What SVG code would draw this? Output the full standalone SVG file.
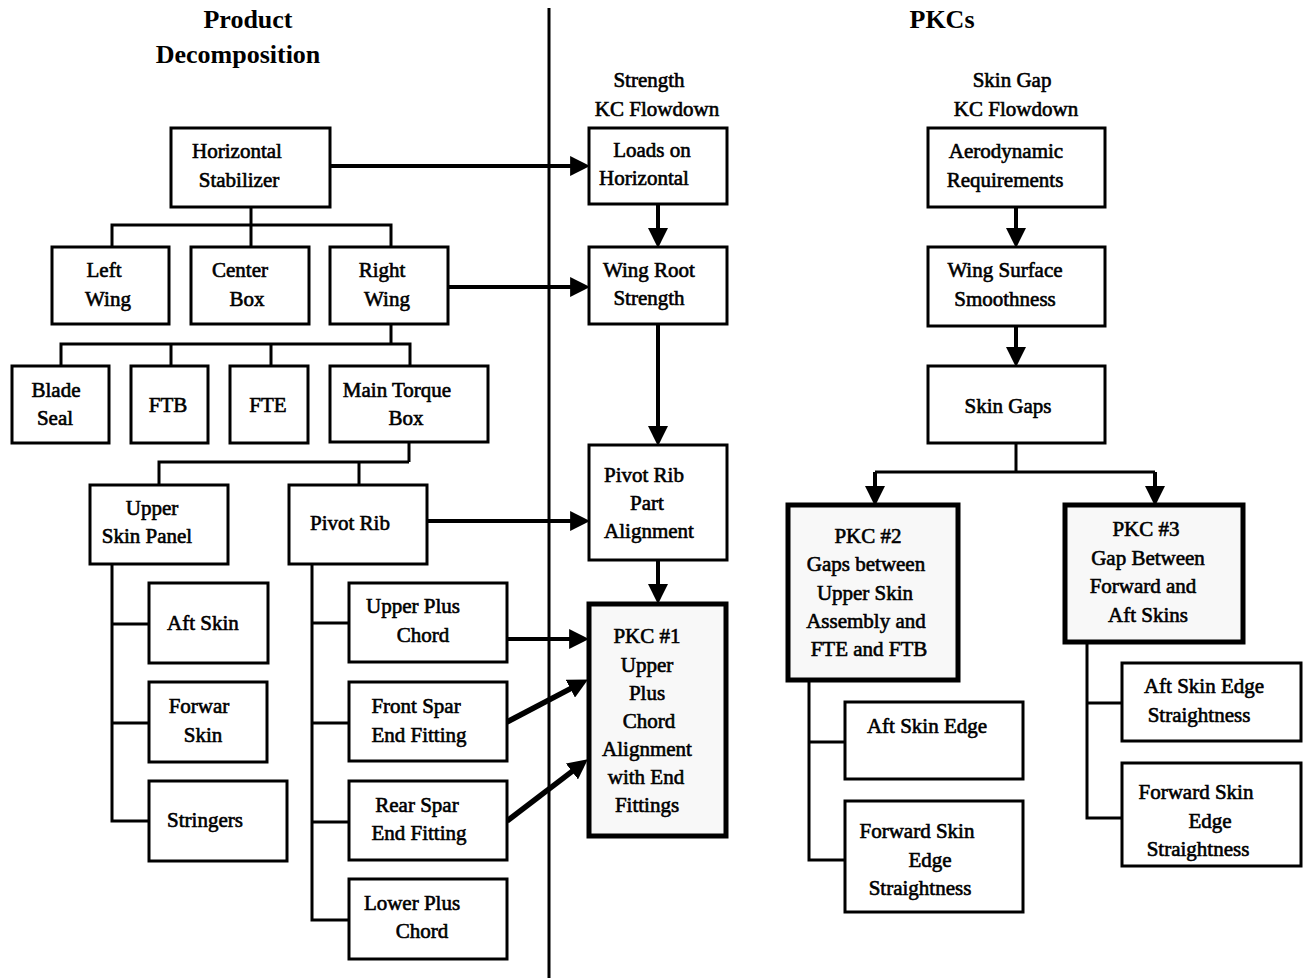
<svg xmlns="http://www.w3.org/2000/svg" width="1304" height="978" viewBox="0 0 1304 978">
<style>
.box{fill:#fff;stroke:#000;stroke-width:3}
.pkc{fill:#f8f8f8;stroke:#000;stroke-width:5}
.t{font-family:"Liberation Serif","Times New Roman",serif;font-size:21px;fill:#000;stroke:#000;stroke-width:0.6;text-anchor:middle}
.h{font-family:"Liberation Serif","Times New Roman",serif;font-size:26px;font-weight:bold;fill:#000;text-anchor:middle}
.c{fill:none;stroke:#000;stroke-width:3}
.a{fill:none;stroke:#000;stroke-width:4;marker-end:url(#ah)}
.ad{fill:none;stroke:#000;stroke-width:5.5;marker-end:url(#ah)}
</style>
<defs>
<marker id="ah" markerUnits="userSpaceOnUse" markerWidth="20" markerHeight="20" refX="8" refY="9" orient="auto" viewBox="0 0 18 18">
<path d="M0,0 L18,9 L0,18 Z" fill="#000"/>
</marker>
</defs>
<rect width="1304" height="978" fill="#fff"/>

<g id="headers">
<text class="h" x="248" y="28">Product</text>
<text class="h" x="238" y="63">Decomposition</text>
<text class="h" x="942" y="28">PKCs</text>
<text class="t" x="649" y="87">Strength</text>
<text class="t" x="657" y="116">KC Flowdown</text>
<text class="t" x="1012" y="87">Skin Gap</text>
<text class="t" x="1016" y="116">KC Flowdown</text>
</g>

<g id="connectors">
<line x1="549" y1="8" x2="549" y2="978" stroke="#000" stroke-width="3"/>
<path class="c" d="M251,207V225M112,247V225H391V247M251,225V247"/>
<path class="c" d="M391,324V344M61,366V344H410V366M171,344V366M271,344V366"/>
<path class="c" d="M409,443V462M159,485V462H409M359,462V485"/>
<path class="c" d="M112,564V821H149M112,624H149M112,723H149"/>
<path class="c" d="M312,564V920H349M312,623H349M312,723H349M312,822H349"/>
<path class="c" d="M809,680V860H845M809,742H845"/>
<path class="c" d="M1087,642V818H1122M1087,703H1122"/>
<path class="c" d="M1016,443V472M875,472H1155"/>
<path class="a" d="M875,472V495"/>
<path class="a" d="M1155,472V495"/>
<path class="a" d="M1016,207V237"/>
<path class="a" d="M1016,326V356"/>
<path class="a" d="M330,166H579"/>
<path class="a" d="M448,287H579"/>
<path class="a" d="M427,521H579"/>
<path class="a" d="M507,639H578"/>
<path class="ad" d="M507,722L578.2,684.6"/>
<path class="ad" d="M507,821L579,766.1"/>
<path class="a" d="M658,204V237"/>
<path class="a" d="M658,324V435"/>
<path class="a" d="M658,560V593"/>
</g>

<g id="horizontal-stabilizer"><rect class="box" x="171" y="128" width="159" height="79"/><text class="t" x="237" y="158">Horizontal</text><text class="t" x="239" y="187">Stabilizer</text></g>
<g id="left-wing"><rect class="box" x="52" y="247" width="117" height="77"/><text class="t" x="104" y="277">Left</text><text class="t" x="108" y="306">Wing</text></g>
<g id="center-box"><rect class="box" x="191" y="247" width="118" height="77"/><text class="t" x="240" y="277">Center</text><text class="t" x="247" y="306">Box</text></g>
<g id="right-wing"><rect class="box" x="330" y="247" width="118" height="77"/><text class="t" x="382" y="277">Right</text><text class="t" x="387" y="306">Wing</text></g>
<g id="blade-seal"><rect class="box" x="12" y="366" width="97" height="77"/><text class="t" x="56" y="397">Blade</text><text class="t" x="55" y="425">Seal</text></g>
<g id="ftb"><rect class="box" x="131" y="366" width="77" height="77"/><text class="t" x="168" y="412">FTB</text></g>
<g id="fte"><rect class="box" x="230" y="366" width="78" height="77"/><text class="t" x="268" y="412">FTE</text></g>
<g id="main-torque-box"><rect class="box" x="330" y="366" width="158" height="76"/><text class="t" x="397" y="397">Main Torque</text><text class="t" x="406" y="425">Box</text></g>
<g id="upper-skin-panel"><rect class="box" x="90" y="485" width="138" height="79"/><text class="t" x="152" y="515">Upper</text><text class="t" x="147" y="543">Skin Panel</text></g>
<g id="pivot-rib"><rect class="box" x="289" y="485" width="138" height="79"/><text class="t" x="350" y="530">Pivot Rib</text></g>
<g id="aft-skin"><rect class="box" x="149" y="583" width="119" height="80"/><text class="t" x="203" y="630">Aft Skin</text></g>
<g id="forwar-skin"><rect class="box" x="149" y="682" width="118" height="80"/><text class="t" x="199" y="713">Forwar</text><text class="t" x="203" y="742">Skin</text></g>
<g id="stringers"><rect class="box" x="149" y="781" width="138" height="80"/><text class="t" x="205" y="827">Stringers</text></g>
<g id="upper-plus-chord"><rect class="box" x="349" y="583" width="158" height="79"/><text class="t" x="413" y="613">Upper Plus</text><text class="t" x="423" y="642">Chord</text></g>
<g id="front-spar"><rect class="box" x="349" y="682" width="158" height="79"/><text class="t" x="416" y="713">Front Spar</text><text class="t" x="419" y="742">End Fitting</text></g>
<g id="rear-spar"><rect class="box" x="349" y="781" width="158" height="79"/><text class="t" x="417" y="812">Rear Spar</text><text class="t" x="419" y="840">End Fitting</text></g>
<g id="lower-plus-chord"><rect class="box" x="349" y="879" width="158" height="80"/><text class="t" x="412" y="910">Lower Plus</text><text class="t" x="422" y="938">Chord</text></g>

<g id="loads-on-horizontal"><rect class="box" x="589" y="128" width="138" height="76"/><text class="t" x="652" y="157">Loads on</text><text class="t" x="644" y="185">Horizontal</text></g>
<g id="wing-root-strength"><rect class="box" x="589" y="247" width="138" height="77"/><text class="t" x="649" y="277">Wing Root</text><text class="t" x="649" y="305">Strength</text></g>
<g id="pivot-rib-part-alignment"><rect class="box" x="589" y="445" width="138" height="115"/><text class="t" x="644" y="482">Pivot Rib</text><text class="t" x="647" y="510">Part</text><text class="t" x="649" y="538">Alignment</text></g>
<g id="pkc1"><rect class="pkc" x="589" y="604" width="137" height="232"/><text class="t" x="647" y="643">PKC #1</text><text class="t" x="647" y="672">Upper</text><text class="t" x="647" y="700">Plus</text><text class="t" x="649" y="728">Chord</text><text class="t" x="647" y="756">Alignment</text><text class="t" x="646" y="784">with End</text><text class="t" x="647" y="812">Fittings</text></g>

<g id="aerodynamic-requirements"><rect class="box" x="928" y="128" width="177" height="79"/><text class="t" x="1006" y="158">Aerodynamic</text><text class="t" x="1005" y="187">Requirements</text></g>
<g id="wing-surface-smoothness"><rect class="box" x="928" y="247" width="177" height="79"/><text class="t" x="1005" y="277">Wing Surface</text><text class="t" x="1005" y="306">Smoothness</text></g>
<g id="skin-gaps"><rect class="box" x="928" y="366" width="177" height="77"/><text class="t" x="1008" y="413">Skin Gaps</text></g>
<g id="pkc2"><rect class="pkc" x="788" y="505" width="170" height="175"/><text class="t" x="868" y="543">PKC #2</text><text class="t" x="866" y="571">Gaps between</text><text class="t" x="865" y="600">Upper Skin</text><text class="t" x="866" y="628">Assembly and</text><text class="t" x="869" y="656">FTE and FTB</text></g>
<g id="pkc3"><rect class="pkc" x="1065" y="505" width="178" height="137"/><text class="t" x="1146" y="536">PKC #3</text><text class="t" x="1148" y="565">Gap Between</text><text class="t" x="1143" y="593">Forward and</text><text class="t" x="1148" y="622">Aft Skins</text></g>
<g id="aft-skin-edge"><rect class="box" x="845" y="702" width="178" height="77"/><text class="t" x="927" y="733">Aft Skin Edge</text></g>
<g id="forward-skin-edge-straightness-2"><rect class="box" x="845" y="801" width="178" height="111"/><text class="t" x="917" y="838">Forward Skin</text><text class="t" x="930" y="867">Edge</text><text class="t" x="920" y="895">Straightness</text></g>
<g id="aft-skin-edge-straightness"><rect class="box" x="1122" y="663" width="179" height="78"/><text class="t" x="1204" y="693">Aft Skin Edge</text><text class="t" x="1199" y="722">Straightness</text></g>
<g id="forward-skin-edge-straightness-3"><rect class="box" x="1122" y="763" width="179" height="103"/><text class="t" x="1196" y="799">Forward Skin</text><text class="t" x="1210" y="828">Edge</text><text class="t" x="1198" y="856">Straightness</text></g>
</svg>
